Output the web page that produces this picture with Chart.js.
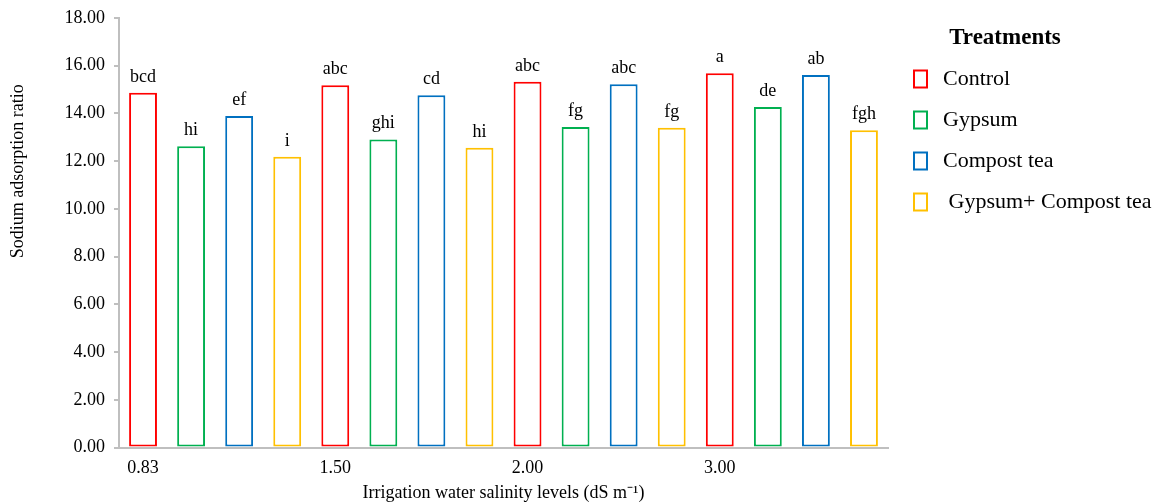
<!DOCTYPE html>
<html>
<head>
<meta charset="utf-8">
<script src="https://cdn.jsdelivr.net/npm/chart.js@4"></script>
<style>
  body { margin: 0; background: #fff; }
  #wrap { width: 1160px; height: 502px; }
</style>
</head>
<body>
<div id="wrap"><canvas id="myChart" width="1160" height="502"></canvas></div>
<script>
// salinity levels and treatments
var levels = ["0.83", "1.50", "2.00", "3.00"];
var treatments = ["Control", "Gypsum", "Compost tea", " Gypsum+ Compost tea"];
var colors = ["#FF0000", "#00B050", "#0070C0", "#FFC000"];

// sodium adsorption ratio per level
var control = [14.87, 15.18, 15.33, 15.68];
var gypsum = [12.63, 12.91, 13.43, 14.27];
var compostTea = [13.89, 14.76, 15.22, 15.61];
var gypsumCompost = [12.18, 12.56, 13.40, 13.30];

// significance letters
var controlLetters = ["bcd", "abc", "abc", "a"];
var gypsumLetters = ["hi", "ghi", "fg", "de"];
var compostLetters = ["ef", "cd", "abc", "ab"];
var gypsumCompostLetters = ["i", "hi", "fg", "fgh"];

var yTicks = [0, 2, 4, 6, 8, 10, 12, 14, 16, 18];

var series = [control, gypsum, compostTea, gypsumCompost];
var letters = [controlLetters, gypsumLetters, compostLetters, gypsumCompostLetters];
var serif = "'Liberation Serif', 'Times New Roman', serif";

// one slot per bar, level label under first bar of each group
var labels = [];
levels.forEach(function (l) {
    labels.push(l, "", "", "");
});

var datasets = series.map(function (vals, s) {
    var data = [];
    levels.forEach(function (l, i) {
        for (var k = 0; k < 4; k++) {
            data.push(k == s ? vals[i] : null);
        }
    });
    return {
        label: treatments[s],
        data: data,
        backgroundColor: "#FFFFFF",
        borderColor: colors[s],
        borderWidth: 2,
        borderSkipped: false,
        barPercentage: 0.58,
        categoryPercentage: 1.0
    };
});

// letters above bars
var letterPlugin = {
    id: "letters",
    afterDatasetsDraw: function (chart) {
        var ctx = chart.ctx;
        ctx.save();
        ctx.font = "18px " + serif;
        ctx.fillStyle = "#000";
        ctx.textAlign = "center";
        ctx.textBaseline = "alphabetic";
        chart.data.datasets.forEach(function (ds, s) {
            var meta = chart.getDatasetMeta(s);
            meta.data.forEach(function (bar, idx) {
                if (ds.data[idx] == null) return;
                var g = Math.floor(idx / 4);
                ctx.fillText(letters[s][g], bar.x, bar.y - 11);
            });
        });
        ctx.restore();
    }
};

// y axis title sits above the middle in the original
var yTitlePlugin = {
    id: "ytitle",
    afterDraw: function (chart) {
        var ctx = chart.ctx;
        var area = chart.chartArea;
        ctx.save();
        ctx.font = "18px " + serif;
        ctx.fillStyle = "#000";
        ctx.textAlign = "center";
        ctx.textBaseline = "middle";
        ctx.translate(18, area.top + (area.bottom - area.top) * 0.357);
        ctx.rotate(-Math.PI / 2);
        ctx.fillText("Sodium adsorption ratio", 0, 0);
        ctx.restore();
    }
};

// legend to the right of the plot, drawn from the datasets
var legendPlugin = {
    id: "sideLegend",
    afterDraw: function (chart) {
        var ctx = chart.ctx;
        var x0 = chart.chartArea.right;
        ctx.save();
        ctx.fillStyle = "#000";
        ctx.textBaseline = "middle";
        ctx.textAlign = "center";
        ctx.font = "bold 23px " + serif;
        ctx.fillText("Treatments", x0 + 117, 38.5);
        ctx.textAlign = "left";
        ctx.font = "22px " + serif;
        chart.data.datasets.forEach(function (ds, i) {
            var cy = 79 + i * 41;
            ctx.fillStyle = "#FFFFFF";
            ctx.fillRect(x0 + 26, cy - 8.5, 13, 17);
            ctx.strokeStyle = ds.borderColor;
            ctx.lineWidth = 2;
            ctx.strokeRect(x0 + 26, cy - 8.5, 13, 17);
            ctx.fillStyle = "#000";
            ctx.fillText(ds.label, x0 + 55, cy);
        });
        ctx.restore();
    }
};

var chart = new Chart(document.getElementById("myChart").getContext("2d"), {
    type: "bar",
    data: { labels: labels, datasets: datasets },
    plugins: [letterPlugin, yTitlePlugin, legendPlugin],
    options: {
        responsive: false,
        animation: false,
        layout: { padding: { left: 55.5, top: 17, right: 272, bottom: 0 } },
        plugins: {
            tooltip: { enabled: false },
            legend: { display: false }
        },
        scales: {
            x: {
                stacked: true,
                grid: { display: false, drawTicks: false },
                border: { display: true, color: "#BFBFBF", width: 2 },
                ticks: {
                    autoSkip: false,
                    maxRotation: 0,
                    padding: 10.2,
                    color: "#000",
                    font: { family: serif, size: 18 }
                },
                title: {
                    display: true,
                    text: "Irrigation water salinity levels (dS m\u207B\u00B9)",
                    color: "#000",
                    font: { family: serif, size: 18, lineHeight: 1 },
                    padding: { top: -5.5, bottom: 0 }
                }
            },
            y: {
                min: 0,
                max: 18,
                afterBuildTicks: function (axis) {
                    axis.ticks = yTicks.map(function (v) { return { value: v }; });
                },
                grid: { drawOnChartArea: false, drawTicks: true, tickLength: 5, color: "#BFBFBF", lineWidth: 2 },
                border: { display: true, color: "#BFBFBF", width: 2 },
                ticks: {
                    padding: 9,
                    color: "#000",
                    font: { family: serif, size: 18, lineHeight: 1 },
                    callback: function (v) { return Number(v).toFixed(2); }
                }
            }
        }
    }
});
</script>
</body>
</html>
